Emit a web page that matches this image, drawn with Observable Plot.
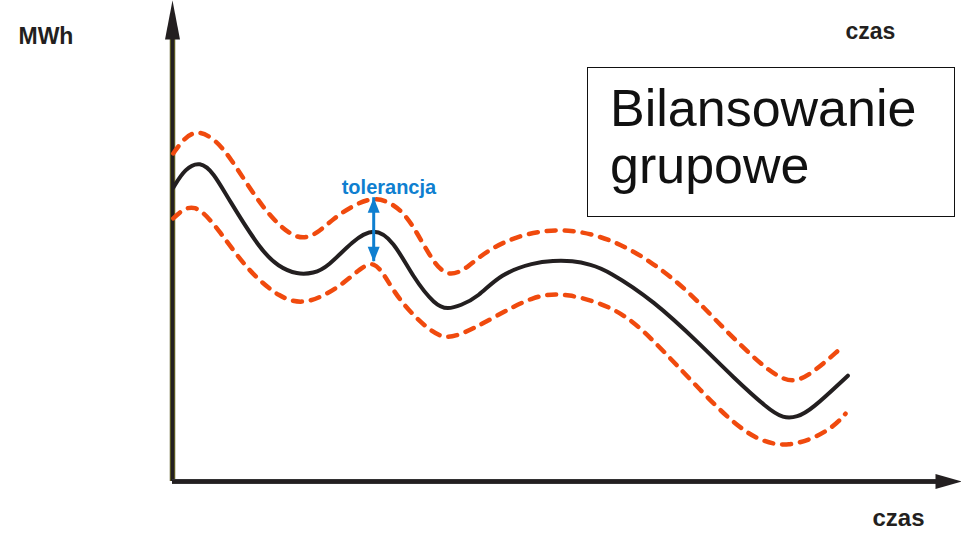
<!DOCTYPE html>
<html><head><meta charset="utf-8">
<script src="https://cdn.jsdelivr.net/npm/d3@7"></script>
<script src="https://cdn.jsdelivr.net/npm/@observablehq/plot@0.6"></script>
<style>
body{margin:0;background:#fff;font-family:"Liberation Sans",Arial,sans-serif;}
#wrap{position:relative;width:961px;height:541px;overflow:hidden;}
#wrap svg{position:absolute;left:0;top:0;}
#box{position:absolute;left:587px;top:67px;width:368px;height:150px;box-sizing:border-box;border:1.5px solid #111;padding:12px 0 0 22px;font-size:52px;line-height:57px;color:#111;font-family:"Liberation Sans",Arial,sans-serif;}
</style></head><body>
<div id="wrap"></div>
<script>
// Group balance profile (arbitrary time units 0–100, MWh 0–100)
const profileTime = [0.1, 1.6, 3.5, 5.2, 7.0, 11.2, 13.4, 15.8, 17.9, 19.6, 22.9, 25.5, 28.0, 30.5, 33.3, 34.9, 36.5, 38.7, 41.6, 45.8, 48.2, 50.7, 53.0, 55.1, 61.0, 66.9, 71.1, 75.4, 77.4, 79.2, 80.9, 85.6];
const profileMWh  = [61.1, 65.1, 66.6, 64.2, 59.0, 48.0, 44.7, 43.0, 43.3, 44.5, 50.1, 52.8, 50.1, 42.4, 36.6, 35.8, 36.6, 38.3, 43.2, 45.5, 45.9, 45.9, 45.1, 43.9, 37.6, 28.5, 21.6, 15.2, 13.1, 13.4, 14.8, 22.0];
// upper tolerance band
const upperTime = [0.1, 1.5, 3.2, 5.0, 7.0, 11.5, 15.8, 18.4, 20.4, 22.9, 25.5, 28.0, 30.2, 33.0, 35.0, 37.5, 39.7, 44.7, 50.2, 55.5, 60.6, 65.3, 69.1, 73.3, 77.7, 80.5, 84.7];
const upperMWh  = [68.2, 71.5, 73.0, 71.5, 68.4, 56.3, 49.7, 51.6, 54.7, 57.4, 59.2, 57.8, 54.3, 45.5, 42.4, 44.5, 48.0, 51.8, 52.6, 50.5, 45.9, 39.7, 33.1, 26.2, 20.2, 21.6, 27.7];
// lower tolerance band
const lowerTime = [0.1, 2.7, 6.1, 9.5, 13.7, 16.5, 19.0, 21.7, 23.8, 25.5, 27.0, 28.9, 33.1, 35.6, 40.7, 45.8, 49.9, 56.5, 60.8, 66.9, 72.9, 78.1, 83.4, 85.3];
const lowerMWh  = [54.7, 58.6, 51.8, 43.9, 38.0, 37.0, 38.4, 41.2, 44.3, 45.9, 42.6, 37.2, 30.4, 29.5, 34.1, 38.7, 39.3, 36.0, 29.7, 18.9, 9.1, 6.7, 10.6, 14.1];
// tolerance marker
const toleranceTime = [25.5];
const toleranceUpper = [59.0];
const toleranceLower = [45.7];
const toleranceLabel = ["tolerancja"];
// axis labels
const yLabel = ["MWh"];
const xLabel = ["czas"];
const boxLines = ["Bilansowanie", "grupowe"];
// axis extents
const xDomain = [0, 100];
const yDomain = [0, 100];

const profile = profileTime.map((t, i) => ({t, v: profileMWh[i]}));
const upper = upperTime.map((t, i) => ({t, v: upperMWh[i]}));
const lower = lowerTime.map((t, i) => ({t, v: lowerMWh[i]}));
const tol = toleranceTime.map((t, i) => ({t, hi: toleranceUpper[i], lo: toleranceLower[i], label: toleranceLabel[i]}));

const head = (dir, len, hw) => ({
  draw(ctx) {
    if (dir === "up") { ctx.moveTo(0, 0); ctx.lineTo(hw, len); ctx.lineTo(-hw, len); }
    else if (dir === "down") { ctx.moveTo(0, 0); ctx.lineTo(hw, -len); ctx.lineTo(-hw, -len); }
    else { ctx.moveTo(0, 0); ctx.lineTo(-len, hw); ctx.lineTo(-len, -hw); }
    ctx.closePath();
  }
});

const ink = "#231f20";
const orange = "#f04a0e";
const blue = "#0f7fd0";
const curve = "basis";

const chart = Plot.plot({
  width: 961, height: 541,
  marginLeft: 172, marginRight: 0, marginTop: 0, marginBottom: 60,
  x: {domain: xDomain, axis: null},
  y: {domain: yDomain, axis: null},
  style: {fontFamily: "Liberation Sans, Arial, sans-serif", background: "white"},
  marks: [
    // axes
    Plot.ruleX([xDomain[0]], {y1: yDomain[0], y2: yDomain[1] * 0.93, stroke: "#5a5820", strokeWidth: 5.5}),
    Plot.ruleX([xDomain[0]], {y1: yDomain[0], y2: yDomain[1] * 0.93, stroke: ink, strokeWidth: 3}),
    Plot.ruleY([yDomain[0]], {x1: xDomain[0], x2: xDomain[1] * 0.97, stroke: "#3a3a3a", strokeWidth: 5}),
    Plot.ruleY([yDomain[0]], {x1: xDomain[0], x2: xDomain[1] * 0.97, stroke: ink, strokeWidth: 3.5}),
    Plot.dot([0], {x: xDomain[0], y: yDomain[1], symbol: head("up", 39, 7.5), fill: ink, stroke: null}),
    Plot.dot([0], {x: xDomain[1], y: yDomain[0], symbol: head("right", 26, 7.5), fill: ink, stroke: null}),
    // tolerance bands
    Plot.line(upper, {x: "t", y: "v", curve, stroke: orange, strokeWidth: 4.5, strokeDasharray: "9,9"}),
    Plot.line(lower, {x: "t", y: "v", curve, stroke: orange, strokeWidth: 4.5, strokeDasharray: "9,9"}),
    // profile
    Plot.line(profile, {x: "t", y: "v", curve, stroke: ink, strokeWidth: 4}),
    // tolerance arrow
    Plot.ruleX(tol, {x: "t", y1: "hi", y2: "lo", stroke: blue, strokeWidth: 3}),
    Plot.dot(tol, {x: "t", y: "hi", symbol: head("up", 15, 6), fill: blue, stroke: null}),
    Plot.dot(tol, {x: "t", y: "lo", symbol: head("down", 15, 6), fill: blue, stroke: null}),
    Plot.text(tol, {x: "t", y: "hi", text: "label", textAnchor: "start", dx: -32, dy: -10, fontSize: 20, fontWeight: "bold", fill: blue}),
    // axis labels
    Plot.text(yLabel, {text: d => d, frameAnchor: "top-left", dx: -154, dy: 27, textAnchor: "start", fontSize: 23, fontWeight: "bold", fill: ink}),
    Plot.text(xLabel, {text: d => d, frameAnchor: "top-right", dx: -116, dy: 22.5, textAnchor: "start", fontSize: 23, fontWeight: "bold", fill: ink}),
    Plot.text(xLabel, {text: d => d, frameAnchor: "bottom-right", dx: -89, dy: 44.5, textAnchor: "start", fontSize: 24, fontWeight: "bold", fill: ink})
  ]
});

const wrap = document.getElementById("wrap");
wrap.appendChild(chart);
const box = document.createElement("div");
box.id = "box";
box.innerHTML = boxLines.join("<br>");
wrap.appendChild(box);
</script>
</body></html>
